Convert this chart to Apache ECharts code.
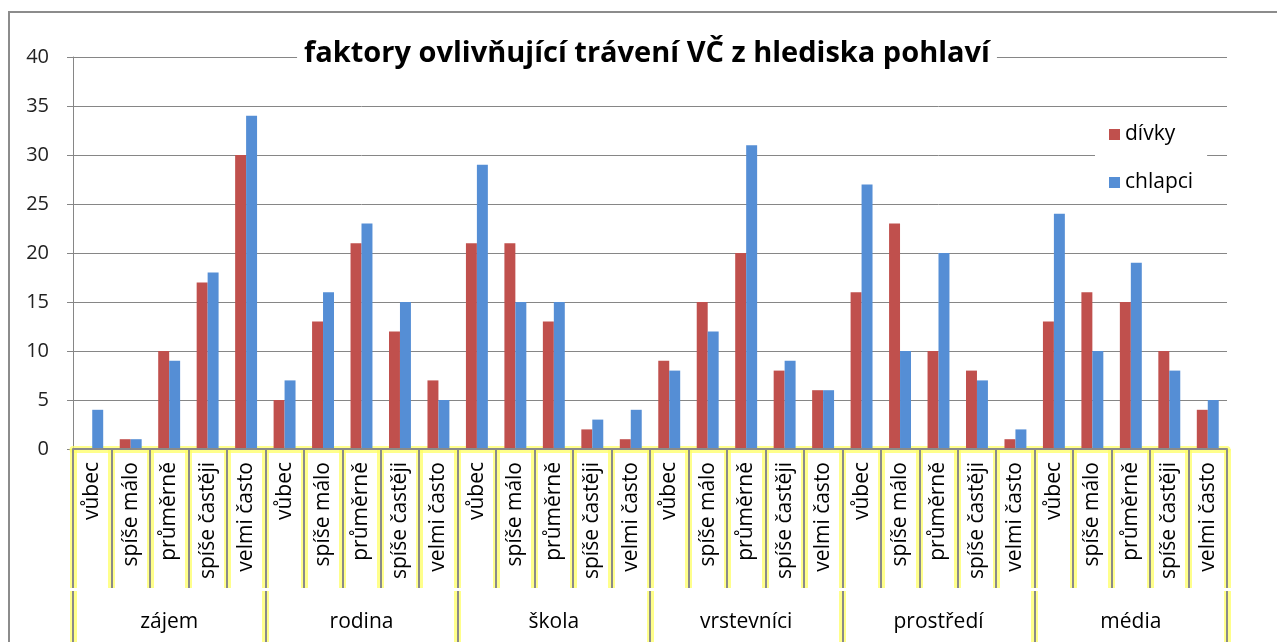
<!DOCTYPE html>
<html>
<head>
<meta charset="utf-8">
<script src="https://cdn.jsdelivr.net/npm/echarts@6/dist/echarts.min.js"></script>
<style>
  html, body { margin: 0; padding: 0; background: #fff; }
  #frame {
    position: absolute; left: 8px; top: 11px; width: 1300px; height: 700px;
    border-left: 2px solid #8c8c8c; border-top: 2px solid #8c8c8c;
  }
  #chart { position: absolute; left: 0; top: 0; width: 1277px; height: 642px; }
</style>
</head>
<body>
<div id="frame"></div>
<div id="chart"></div>
<script>
// skupiny faktorů a odpovědi
const groups = ['zájem', 'rodina', 'škola', 'vrstevníci', 'prostředí', 'média']
const answers = ['vůbec', 'spíše málo', 'průměrně', 'spíše častěji', 'velmi často']

// hodnoty po skupinách (5 odpovědí za sebou)
const divky = [
  0, 1, 10, 17, 30,
  5, 13, 21, 12, 7,
  21, 21, 13, 2, 1,
  9, 15, 20, 8, 6,
  16, 23, 10, 8, 1,
  13, 16, 15, 10, 4
]
const chlapci = [
  4, 1, 9, 18, 34,
  7, 16, 23, 15, 5,
  29, 15, 15, 3, 4,
  8, 12, 31, 9, 6,
  27, 10, 20, 7, 2,
  24, 10, 19, 8, 5
]

const yTicks = { min: 0, max: 40, interval: 5 }

var categories = []
groups.forEach(function() {
  answers.forEach(function(a) { categories.push(a) })
})

var font = 'Open Sans'
var sepLine = { color: '#8a8a8a', width: 2 }
var glowLine = { color: 'rgba(255, 255, 100, 0.75)', width: 7 }

// osa s odpověďmi (horní úroveň popisků)
function answerAxis(line, z, withLabels) {
  return {
    type: 'category',
    data: categories,
    position: 'bottom',
    z: z,
    axisLine: { show: true, lineStyle: line },
    axisTick: { show: true, interval: 0, length: 139, lineStyle: line },
    axisLabel: {
      show: withLabels, interval: 0, rotate: 90, margin: 13,
      fontFamily: font, fontSize: 21, color: '#000'
    },
    splitLine: { show: false }
  }
}
// osa se skupinami (spodní úroveň)
function groupAxis(line, z, withLabels) {
  return {
    type: 'category',
    data: groups,
    position: 'bottom',
    offset: 142,
    z: z,
    axisLine: { show: false },
    axisTick: { show: true, interval: 0, length: 60, lineStyle: line },
    axisLabel: { show: withLabels, interval: 0, margin: 21, fontFamily: font, fontSize: 21, color: '#000' },
    splitLine: { show: false }
  }
}

var myChart = echarts.init(document.getElementById('chart'))
var option = {
  animation: false,
  title: {
    text: 'faktory ovlivňující trávení VČ z hlediska pohlaví',
    left: 640,
    textAlign: 'center',
    top: 39,
    padding: [0, 7],
    backgroundColor: '#fff',
    textStyle: { fontFamily: font, fontSize: 29, fontWeight: 'bold', color: '#000' }
  },
  legend: {
    orient: 'vertical',
    left: 1095,
    top: 116,
    padding: [8, 14, 8, 14],
    backgroundColor: '#fff',
    itemWidth: 11,
    itemHeight: 11,
    itemGap: 27,
    icon: 'rect',
    data: ['dívky', 'chlapci'],
    textStyle: { fontFamily: font, fontSize: 21, color: '#000' }
  },
  grid: { left: 73, right: 50, top: 57, bottom: 193, containLabel: false },
  xAxis: [
    answerAxis(sepLine, 4, true),
    groupAxis(sepLine, 4, true),
    answerAxis(glowLine, 1, false),
    groupAxis(glowLine, 1, false)
  ],
  yAxis: {
    type: 'value',
    min: yTicks.min,
    max: yTicks.max,
    interval: yTicks.interval,
    axisLine: { show: true, lineStyle: { color: '#868686', width: 1 } },
    axisTick: { show: true, length: 6, lineStyle: { color: '#868686' } },
    splitLine: { lineStyle: { color: '#868686', width: 1 } },
    axisLabel: { margin: 24, fontFamily: font, fontSize: 20, color: '#222' }
  },
  series: [
    {
      name: 'dívky',
      type: 'bar',
      xAxisIndex: 0,
      barGap: 0,
      barCategoryGap: '43%',
      itemStyle: { color: '#C0504D' },
      data: divky
    },
    {
      name: 'chlapci',
      type: 'bar',
      xAxisIndex: 0,
      barGap: 0,
      barCategoryGap: '43%',
      itemStyle: { color: '#558ED5' },
      data: chlapci
    }
  ]
}
option && myChart.setOption(option)
</script>
</body>
</html>
